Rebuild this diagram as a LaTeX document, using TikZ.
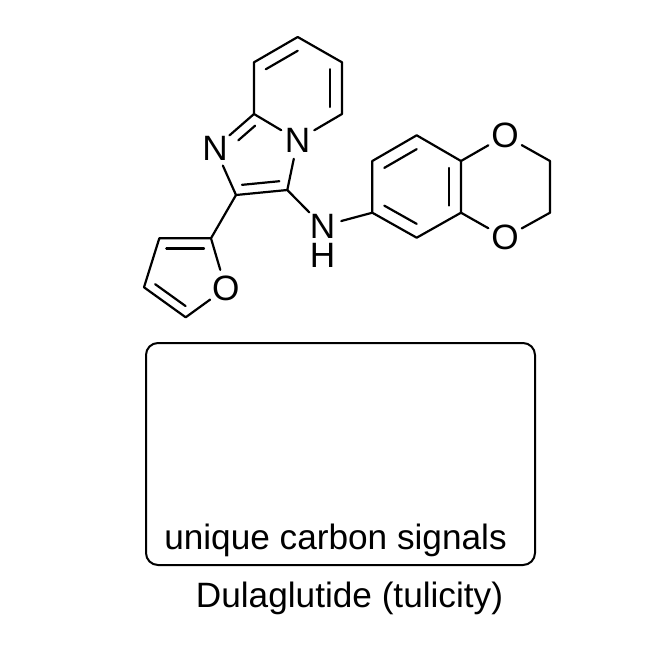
\documentclass[tikz,border=0pt]{standalone}
\usepackage{fontspec}
\setmainfont{Liberation Sans}
\usetikzlibrary{calc}
\newcommand{\lbl}{\fontsize{35.2}{40}\selectfont}
\newcommand{\dbl}[4]{\draw[bondline] ($(#1)!.27!(#3)$) -- ($(#2)!#4!(#3)$);}
\tikzset{
  atom/.style={circle,inner sep=0pt,minimum size=38pt,font=\lbl},
  hatom/.style={rectangle,inner sep=0pt,font=\lbl},
  plain/.style={inner sep=0pt,font=\lbl,anchor=base},
  bondline/.style={line width=2.2pt,line cap=round,line join=round,black},
  panel/.style={draw,line width=2pt,rounded corners=12pt,minimum width=389pt,minimum height=222pt,inner sep=0pt}
}
\begin{document}
\begin{tikzpicture}[x=1pt,y=-1pt]
\useasboundingbox (0,0) rectangle (648,654);
% pyridine
\coordinate (p1) at (297.7,37);
\coordinate (p2) at (342,62.3);
\coordinate (p3) at (342,114);
\node[atom] (nb) at (297.7,140) {N};
\coordinate (p5) at (254,114);
\coordinate (p6) at (254,62.3);
\coordinate (pc) at (297.7,88);
% imidazole
\node[atom] (na) at (215,148) {N};
\coordinate (c2) at (236,195);
\coordinate (c3) at (287.3,190);
\coordinate (ic) at (258,157.4);
% furan
\coordinate (f2) at (211,238.3);
\coordinate (f3) at (159.3,238.3);
\coordinate (f4) at (144,287.3);
\coordinate (f5) at (185.7,317.3);
\node[atom] (fo) at (225.7,288.3) {O};
\coordinate (fc) at (185.3,275.7);
% NH
\node[atom] (nh) at (322.7,226) {N};
\node[hatom] (hh) at (322.7,255) {H};
% benzene
\coordinate (b1) at (372.3,161);
\coordinate (b2) at (416.7,135.3);
\coordinate (b3) at (461,161);
\coordinate (b4) at (461,212.7);
\coordinate (b5) at (416.7,237.7);
\coordinate (b6) at (372.3,212.7);
\coordinate (bc) at (416.7,186.5);
% dioxane
\node[atom] (o1) at (505,135.7) {O};
\node[atom] (o2) at (505,237.7) {O};
\coordinate (d1) at (550,161);
\coordinate (d2) at (550,212.7);
% bonds
\draw[bondline] (p5) -- (p6) -- (p1) -- (p2) -- (p3) -- (nb) -- (p5);
\dbl{p6}{p1}{pc}{.27}
\dbl{p2}{p3}{pc}{.27}
\draw[bondline] (na) -- (p5);
\draw[bondline] ($(p5)!.27!(ic)$) coordinate (q) -- ($(q)+.43*(na)-.43*(p5)$);
\draw[bondline] (nb) -- (c3) -- (c2) -- (na);
\dbl{c2}{c3}{ic}{.27}
\draw[bondline] (c2) -- (f2) -- (f3) -- (f4) -- (f5) -- (fo) -- (f2);
\dbl{f3}{f2}{fc}{.27}
\dbl{f4}{f5}{fc}{.27}
\draw[bondline] (c3) -- (nh);
\draw[bondline] (nh) -- (b6);
\draw[bondline] (b1) -- (b2) -- (b3) -- (b4) -- (b5) -- (b6) -- cycle;
\dbl{b1}{b2}{bc}{.27}
\dbl{b3}{b4}{bc}{.27}
\dbl{b5}{b6}{bc}{.27}
\draw[bondline] (b3) -- (o1) -- (d1) -- (d2) -- (o2) -- (b4);
% panel
\node[panel] (box) at (340.5,454) {};
\node[plain] (t1) at (335.5,549) {unique carbon signals};
\node[plain] (t2) at (349.5,607) {Dulaglutide (tulicity)};
\end{tikzpicture}
\end{document}
